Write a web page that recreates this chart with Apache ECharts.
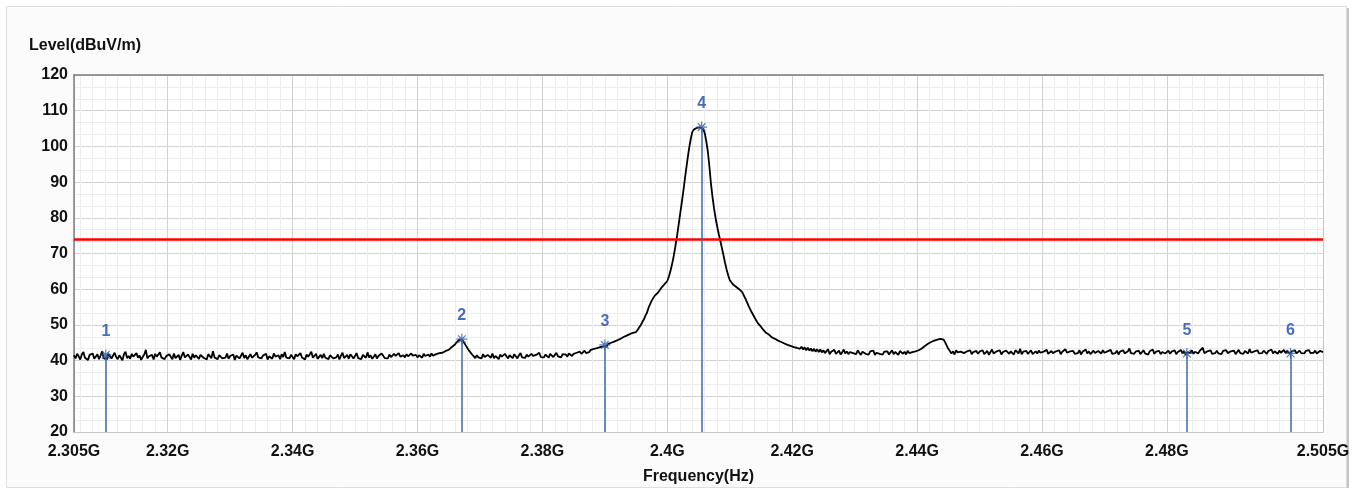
<!DOCTYPE html>
<html>
<head>
    <meta charset="utf-8"/>
    <title>Level vs Frequency</title>
    <script src="https://cdn.jsdelivr.net/npm/echarts@6/dist/echarts.min.js"></script>
    <style>
        html, body { margin: 0; padding: 0; background: #fff; }
        #main { width: 1361px; height: 490px; }
    </style>
</head>
<body>
<div id="main"></div>
<script>
    // sweep: 2.305 GHz .. 2.505 GHz, one reading every 0.25 MHz (20 per row = 5 MHz)
    var startGHz = 2.305;
    var stepGHz = 0.00025;
    var levelDbuv = [
        41.5, 40.6, 41.9, 41.2, 40.3, 41.7, 42.4, 40.8, 41.0, 40.2, 41.6, 41.3, 42.0, 40.5, 40.9, 41.8, 40.4, 41.4, 42.6, 40.7,
        41.1, 40.3, 41.9, 41.6, 40.6, 40.9, 42.2, 41.0, 40.4, 41.5, 41.2, 40.1, 41.8, 42.5, 40.7, 41.3, 40.5, 41.9, 41.1, 40.6,
        42.1, 40.8, 41.4, 40.2, 41.0, 41.7, 43.0, 40.6, 41.2, 40.9, 41.6, 40.3, 41.9, 41.1, 40.7, 42.3, 40.9, 41.4, 40.4, 41.2,
        40.8, 41.8, 41.3, 40.4, 42.0, 40.7, 41.1, 41.6, 40.2, 41.4, 42.4, 40.9, 40.6, 41.7, 41.2, 40.3, 41.9, 40.8, 41.5, 41.0,
        40.5, 41.6, 42.1, 40.8, 41.0, 40.3, 41.8, 41.3, 40.7, 42.6, 40.9, 41.2, 40.4, 41.5, 41.9, 40.6, 41.1, 40.8, 42.0, 40.5,
        41.3, 40.9, 41.7, 40.2, 41.4, 41.9, 40.6, 41.0, 42.2, 40.7, 41.5, 40.4, 41.1, 41.8, 40.8, 40.5, 41.6, 42.3, 40.9, 41.2,
        40.6, 41.4, 40.9, 41.9, 40.3, 41.2, 41.7, 40.5, 42.0, 41.1, 40.7, 41.5, 40.4, 41.8, 41.0, 42.4, 40.8, 41.3, 40.6, 41.6,
        41.0, 40.4, 41.8, 41.2, 40.7, 42.1, 40.9, 41.4, 40.3, 41.7, 41.1, 40.6, 42.5, 40.8, 41.3, 41.9, 40.5, 41.0, 41.6, 40.7,
        41.9, 40.8, 41.2, 40.4, 41.5, 42.0, 40.6, 41.1, 40.9, 41.7, 40.3, 41.4, 42.2, 40.7, 41.0, 41.6, 40.5, 41.8, 41.2, 40.6,
        41.3, 42.1, 40.7, 41.0, 40.4, 41.6, 41.2, 40.8, 42.3, 40.9, 41.5, 40.5, 41.1, 41.8, 40.6, 41.3, 40.9, 42.0, 41.4, 40.7,
        41.2, 40.6, 41.7, 41.0, 40.5, 41.9, 41.3, 40.8, 42.1, 41.1, 40.6, 41.5, 40.9, 41.8, 41.2, 40.7, 42.0, 41.4, 41.0, 41.6,
        40.9, 41.5, 41.2, 40.8, 41.9, 41.3, 40.9, 41.7, 41.1, 42.0, 41.4, 41.0, 41.8, 41.5, 42.1, 41.7, 42.2, 42.0, 42.7, 42.5,
        43.0, 43.4, 43.8, 44.3, 44.5, 45.1, 45.4, 45.9, 46.0, 45.6, 45.1, 44.2, 43.7, 42.8, 42.4, 41.7, 41.2, 40.7, 41.5, 40.9,
        41.4, 40.6, 41.8, 41.0, 40.5, 41.6, 41.2, 40.8, 42.0, 40.7, 41.3, 41.0, 40.4, 41.7, 41.1, 40.8, 41.9, 41.2, 40.6, 41.5,
        41.0, 40.7, 41.8, 41.3, 40.6, 41.5, 42.1, 40.9, 41.2, 40.8, 41.7, 41.1, 40.6, 41.9, 41.3, 40.9, 41.6, 41.2, 42.2, 41.0,
        41.4, 40.9, 41.7, 41.2, 40.8, 41.9, 41.4, 41.0, 41.6, 42.2, 41.2, 41.5, 40.9, 41.8, 41.3, 41.7, 41.1, 42.0, 41.5, 41.3,
        41.9, 41.4, 42.2, 41.7, 42.5, 41.9, 42.3, 42.8, 42.1, 42.6, 42.4, 43.0, 42.6, 43.3, 42.9, 43.5, 43.1, 43.8, 43.4, 44.0,
        44.4, 43.9, 44.6, 44.3, 45.0, 44.6, 45.3, 45.0, 45.7, 45.4, 46.1, 45.8, 46.6, 46.3, 47.0, 46.7, 47.4, 47.1, 47.8, 47.6,
        48.0, 48.6, 49.3, 49.9, 50.8, 51.5, 52.6, 53.4, 54.8, 55.3, 56.8, 57.1, 58.2, 58.0, 59.0, 59.3, 60.3, 60.4, 61.3, 61.4,
        62.3, 63.5, 65.0, 66.9, 69.0, 71.5, 74.2, 77.2, 80.3, 83.4, 86.5, 89.9, 93.3, 96.5, 99.5, 102.0, 104.0, 104.7, 105.0, 105.2,
        105.3, 105.3, 105.4, 104.9, 103.7, 101.4, 98.5, 94.3, 89.5, 85.7, 82.5, 79.8, 77.5, 75.4, 73.5, 71.5, 69.5, 67.4, 65.5, 63.9,
        62.6, 62.3, 61.4, 61.6, 60.7, 60.9, 60.0, 60.3, 59.2, 58.9, 57.4, 57.0, 55.4, 55.1, 53.6, 53.5, 52.0, 51.6, 50.5, 50.3,
        49.5, 48.9, 48.6, 47.9, 47.9, 47.3, 47.2, 46.5, 46.8, 46.1, 46.3, 45.6, 46.0, 45.2, 45.6, 44.8, 45.2, 44.4, 44.9, 44.1,
        44.6, 43.8, 44.3, 43.6, 44.1, 43.3, 43.9, 43.1, 43.7, 42.9, 43.6, 42.8, 43.4, 42.6, 43.3, 42.5, 43.2, 42.4, 43.1, 42.3,
        42.9, 42.1, 42.6, 43.2, 41.8, 42.5, 42.2, 43.0, 41.9, 42.4, 42.8, 41.7, 42.3, 43.1, 42.0, 42.6, 41.8, 42.4, 42.9, 42.1,
        42.4, 41.8, 42.9, 42.2, 41.6, 42.5, 43.0, 41.9, 42.3, 41.7, 42.6, 42.1, 42.8, 41.6, 42.2, 42.7, 41.9, 42.4, 41.7, 42.5,
        42.0, 42.6, 41.7, 42.3, 42.9, 41.8, 42.4, 42.0, 41.6, 42.7, 42.2, 41.9, 42.5, 41.7, 42.8, 42.1, 41.8, 42.4, 42.0, 42.6,
        42.2, 42.9, 42.5, 43.4, 43.2, 44.1, 43.8, 44.7, 44.4, 45.2, 44.9, 45.6, 45.2, 45.9, 45.5, 46.1, 45.7, 45.9, 45.1, 44.6,
        43.3, 42.7, 42.0, 42.6, 41.7, 42.9, 42.3, 41.8, 42.5, 43.0, 42.1, 41.7, 42.6, 42.2, 42.9, 41.8, 42.4, 42.0, 42.7, 41.9,
        42.5, 42.0, 42.9, 41.8, 42.3, 42.7, 41.6, 42.4, 43.1, 42.0, 41.8, 42.6, 42.2, 42.9, 41.7, 42.4, 42.1, 42.8, 42.3, 41.9,
        42.6, 42.2, 41.7, 42.9, 42.4, 42.0, 43.3, 41.8, 42.5, 42.1, 42.7, 41.9, 42.4, 42.9, 41.8, 42.3, 42.6, 42.0, 42.8, 42.2,
        41.8, 42.5, 42.2, 43.0, 41.9, 42.4, 42.7, 42.1, 41.7, 42.6, 42.3, 42.9, 41.8, 42.5, 42.0, 43.2, 42.2, 41.9, 42.6, 42.3,
        42.7, 41.9, 42.4, 42.1, 42.9, 41.7, 42.5, 42.2, 43.1, 42.0, 42.6, 41.8, 42.3, 42.8, 42.1, 41.9, 42.7, 42.4, 42.0, 42.9,
        42.2, 41.8, 42.6, 42.3, 43.0, 41.9, 42.4, 42.1, 42.8, 41.7, 42.5, 42.2, 42.9, 42.0, 41.8, 42.6, 43.4, 42.1, 42.4, 41.9,
        42.5, 42.1, 42.8, 41.8, 42.3, 42.9, 42.0, 42.4, 41.7, 42.6, 42.2, 43.1, 41.9, 42.5, 42.1, 42.7, 41.8, 42.4, 42.9, 42.0,
        42.3, 42.8, 41.9, 42.5, 42.1, 42.9, 41.8, 42.4, 42.2, 43.0, 42.0, 42.6, 41.7, 42.3, 42.7, 42.1, 42.9, 41.9, 42.5, 42.2,
        42.0, 42.7, 42.3, 43.6, 42.1, 41.8, 42.6, 42.2, 42.9, 41.9, 42.4, 42.1, 42.8, 42.0, 42.5, 41.8, 42.7, 42.3, 42.9, 42.1,
        41.9, 42.6, 42.2, 42.8, 41.8, 42.4, 43.0, 42.1, 42.5, 41.9, 42.7, 42.3, 42.0, 43.2, 42.2, 41.8, 42.6, 42.4, 42.9, 42.0,
        42.5, 42.1, 42.8, 42.3, 41.9, 42.7, 42.2, 43.1, 42.0, 42.6, 42.4, 41.9, 42.8, 42.2, 42.5, 43.0, 42.1, 42.7, 42.3, 41.9,
        42.6, 42.2, 42.9, 42.0, 42.5, 42.8, 42.1, 42.4, 42.0, 42.7, 42.3, 42.9, 42.1, 42.6, 42.2, 42.8, 42.0, 42.5, 42.7, 42.2,
        42.4
    ];

    var freqTicks = [2.305, 2.32, 2.34, 2.36, 2.38, 2.4, 2.42, 2.44, 2.46, 2.48, 2.505];
    var limitLevel = 74;

    var markerNames = ['1', '2', '3', '4', '5', '6'];
    var markerFreqs = [2.3101, 2.3671, 2.3900, 2.4055, 2.4832, 2.4998];
    var markerLevels = [41.6, 46.0, 44.4, 105.4, 42.0, 42.0];

    // fine grid every 2 MHz (skip the 20 MHz major lines)
    var minorFreqs = [];
    for (var k = 0; k < 100; k++) {
        var f = +(2.306 + k * 0.002).toFixed(3);
        if (Math.round(f * 1000) % 20 !== 0 && f < 2.505) minorFreqs.push(f);
    }

    var traceData = levelDbuv.map(function (v, i) {
        return [+(startGHz + i * stepGHz).toFixed(5), v];
    });
    var markerData = markerFreqs.map(function (f, i) {
        return {value: [f, markerLevels[i]], name: markerNames[i]};
    });
    var stemData = markerFreqs.map(function (f, i) {
        return [{coord: [f, 20]}, {coord: [f, markerLevels[i]]}];
    });

    var font = '"Liberation Sans", Arial, sans-serif';
    var chart = echarts.init(document.getElementById('main'));
    chart.setOption({
        animation: false,
        backgroundColor: '#fff',
        graphic: [{
            type: 'rect', z: -20, silent: true,
            shape: {x: 1346, y: 8, width: 3, height: 480},
            style: {fill: '#c4c4c4'}
        }, {
            type: 'rect', z: -19, silent: true,
            shape: {x: 6.5, y: 6.5, width: 1340, height: 481},
            style: {fill: '#fbfbfb', stroke: '#dedede', lineWidth: 1}
        }],
        title: {
            text: 'Level(dBuV/m)',
            left: 29, top: 38, padding: 0,
            textStyle: {fontFamily: font, fontSize: 16, fontWeight: 'bold', color: '#111'}
        },
        grid: {
            left: 74, right: 38, top: 75, bottom: 58,
            show: true, backgroundColor: '#fff', borderWidth: 0
        },
        xAxis: [{
            type: 'value', position: 'bottom',
            min: 2.305, max: 2.505,
            name: 'Frequency(Hz)', nameLocation: 'middle', nameGap: 37,
            nameTextStyle: {fontFamily: font, fontSize: 16, fontWeight: 'bold', color: '#111'},
            axisLine: {show: true, lineStyle: {color: '#c6c6c6', width: 1}},
            axisTick: {show: false, customValues: freqTicks},
            axisLabel: {
                customValues: freqTicks, margin: 12,
                fontFamily: font, fontSize: 16, fontWeight: 'bold', color: '#111',
                formatter: function (v) { return +v.toFixed(3) + 'G'; }
            },
            splitLine: {show: true, lineStyle: {color: '#d2d2d2', width: 1}}
        }, {
            type: 'value', position: 'top',
            min: 2.305, max: 2.505,
            axisLine: {show: true, lineStyle: {color: '#7c7c7c', width: 1.5}},
            axisTick: {show: false, customValues: minorFreqs},
            axisLabel: {show: false},
            splitLine: {show: true, lineStyle: {color: '#ececec', width: 1}}
        }],
        yAxis: [{
            type: 'value', position: 'left',
            min: 20, max: 120, interval: 10,
            axisLine: {show: true, lineStyle: {color: '#7c7c7c', width: 1.5}},
            axisTick: {show: false},
            axisLabel: {margin: 6, fontFamily: font, fontSize: 16, fontWeight: 'bold', color: '#111'},
            splitLine: {show: true, lineStyle: {color: '#d2d2d2', width: 1}},
            minorTick: {show: false, splitNumber: 3},
            minorSplitLine: {show: true, lineStyle: {color: '#ececec', width: 1}}
        }, {
            type: 'value', position: 'right',
            min: 20, max: 120,
            axisLine: {show: true, lineStyle: {color: '#c6c6c6', width: 1}},
            axisTick: {show: false},
            axisLabel: {show: false},
            splitLine: {show: false}
        }],
        series: [{
            name: 'trace',
            type: 'line',
            data: traceData,
            showSymbol: false,
            symbol: 'none',
            sampling: false,
            silent: true,
            lineStyle: {color: '#000', width: 1.8},
            markLine: {
                silent: true,
                symbol: 'none',
                label: {show: false},
                lineStyle: {color: '#ff0000', width: 2.5, type: 'solid'},
                data: [{yAxis: limitLevel}]
            },
            z: 3
        }, {
            name: 'markers',
            type: 'scatter',
            data: markerData,
            symbol: 'path://M0,-6L0,6M-6,0L6,0M-4.2,-4.2L4.2,4.2M-4.2,4.2L4.2,-4.2',
            symbolSize: 11,
            itemStyle: {color: 'rgba(0,0,0,0)', borderColor: '#2f5aa8', borderWidth: 1.2},
            label: {
                show: true, position: 'top', distance: 9,
                formatter: '{b}',
                fontFamily: font, fontSize: 16, fontWeight: 'bold', color: '#1a48b0'
            },
            markLine: {
                silent: true,
                symbol: 'none',
                label: {show: false},
                lineStyle: {color: '#3d68ae', width: 1.5, type: 'solid'},
                data: stemData
            },
            z: 4
        }]
    });
</script>
</body>
</html>
